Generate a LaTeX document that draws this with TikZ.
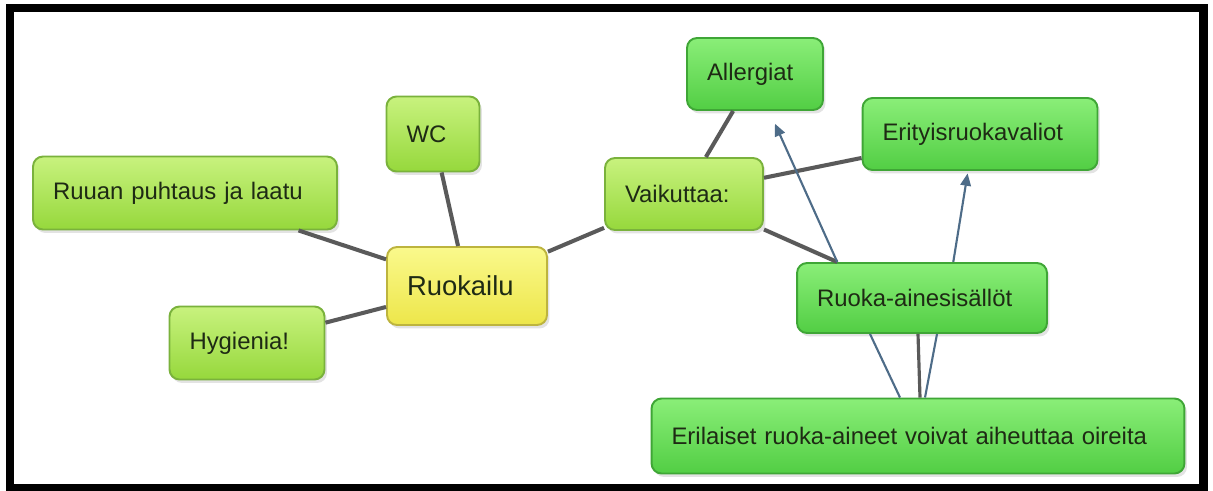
\documentclass[tikz,border=0pt]{standalone}
\usepackage{fontspec}
\setmainfont{Liberation Sans}
\usetikzlibrary{calc,shadows,arrows.meta}
\definecolor{limetop}{HTML}{C8F27E}
\definecolor{limebot}{HTML}{96D83C}
\definecolor{limeline}{HTML}{7AB23C}
\definecolor{greentop}{HTML}{8AEE78}
\definecolor{greenbot}{HTML}{52CE44}
\definecolor{greenline}{HTML}{3FA636}
\definecolor{yellowtop}{HTML}{FAF98C}
\definecolor{yellowbot}{HTML}{EDE64A}
\definecolor{yellowline}{HTML}{BDB43E}
\definecolor{linkgray}{HTML}{5A5A5A}
\definecolor{arrowblue}{HTML}{4E6C88}
\definecolor{textdark}{HTML}{1E2A14}
\tikzset{
    idea/.style={rounded corners=0.2cm, line width=1.1pt, align=left, inner xsep=0.4cm, inner ysep=0pt,
        font=\fontsize{13.6}{16}\selectfont, text=textdark,
        drop shadow={opacity=0.22, shadow xshift=0.05cm, shadow yshift=-0.07cm}},
    lime/.style={idea, draw=limeline, top color=limetop, bottom color=limebot},
    green/.style={idea, draw=greenline, top color=greentop, bottom color=greenbot},
    yellow/.style={idea, draw=yellowline, top color=yellowtop, bottom color=yellowbot},
    link/.style={draw=linkgray, line width=2.3pt},
    cause/.style={draw=arrowblue, line width=1.2pt, -{Triangle[length=7pt,width=6pt]}},
    tie/.style={draw=arrowblue, line width=1.2pt}
}
\begin{document}
\begin{tikzpicture}[x=0.02cm,y=-0.02cm]
        \useasboundingbox (0,0) rectangle (1213,490);
        \fill [white] (0,0) rectangle (1213,490);
        % boxes
        \node [lime, text width=5.28cm, minimum height=1.46cm] (ruuan) at (185,193) {Ruuan puhtaus ja laatu};
        \node [lime, text width=2.3cm, minimum height=1.46cm] (hyg) at (247,343) {Hygienia!};
        \node [lime, text width=1.06cm, minimum height=1.5cm] (wc) at (433,134) {WC};
        \node [yellow, text width=2.4cm, minimum height=1.56cm, font=\fontsize{15.6}{18}\selectfont] (ruok) at (467,286) {Ruokailu};
        \node [lime, text width=2.36cm, minimum height=1.44cm] (vaik) at (684,194) {Vaikuttaa:};
        \node [green, text width=1.92cm, minimum height=1.44cm] (allerg) at (755,74) {Allergiat};
        \node [green, text width=3.9cm, minimum height=1.44cm] (erit) at (980,134) {Erityisruokavaliot};
        \node [green, text width=4.2cm, minimum height=1.4cm] (sisal) at (922,298) {Ruoka-ainesisällöt};
        \node [green, text width=9.86cm, minimum height=1.5cm] (eril) at (918,436) {Erilaiset ruoka-aineet voivat aiheuttaa oireita};
        % links
        \draw [link] (ruuan) -- (ruok);
        \draw [link] (hyg) -- (ruok);
        \draw [link] (wc) -- (ruok);
        \draw [link] (ruok) -- (vaik);
        \draw [link] (vaik) -- (allerg);
        \draw [link] (vaik) -- (erit);
        \draw [link] (vaik) -- (sisal.157);
        \draw [cause, shorten >=0.28cm] (sisal.157) -- (allerg.-69);
        \draw [cause, shorten >=0.05cm] (sisal.49) -- (erit.-108);
        \draw [tie] ($(eril.north)+(-18,0)$) -- ($(sisal.south)+(-52,0)$);
        \draw [link, line width=1.8pt] ($(eril.north)+(2,0)$) -- ($(sisal.south)+(-4,0)$);
        \draw [tie] ($(eril.north)+(7,0)$) -- ($(sisal.south)+(15,0)$);
        % frame
        \draw [line width=0.18cm] (10,8) rectangle (1203,488);
\end{tikzpicture}
\end{document}
